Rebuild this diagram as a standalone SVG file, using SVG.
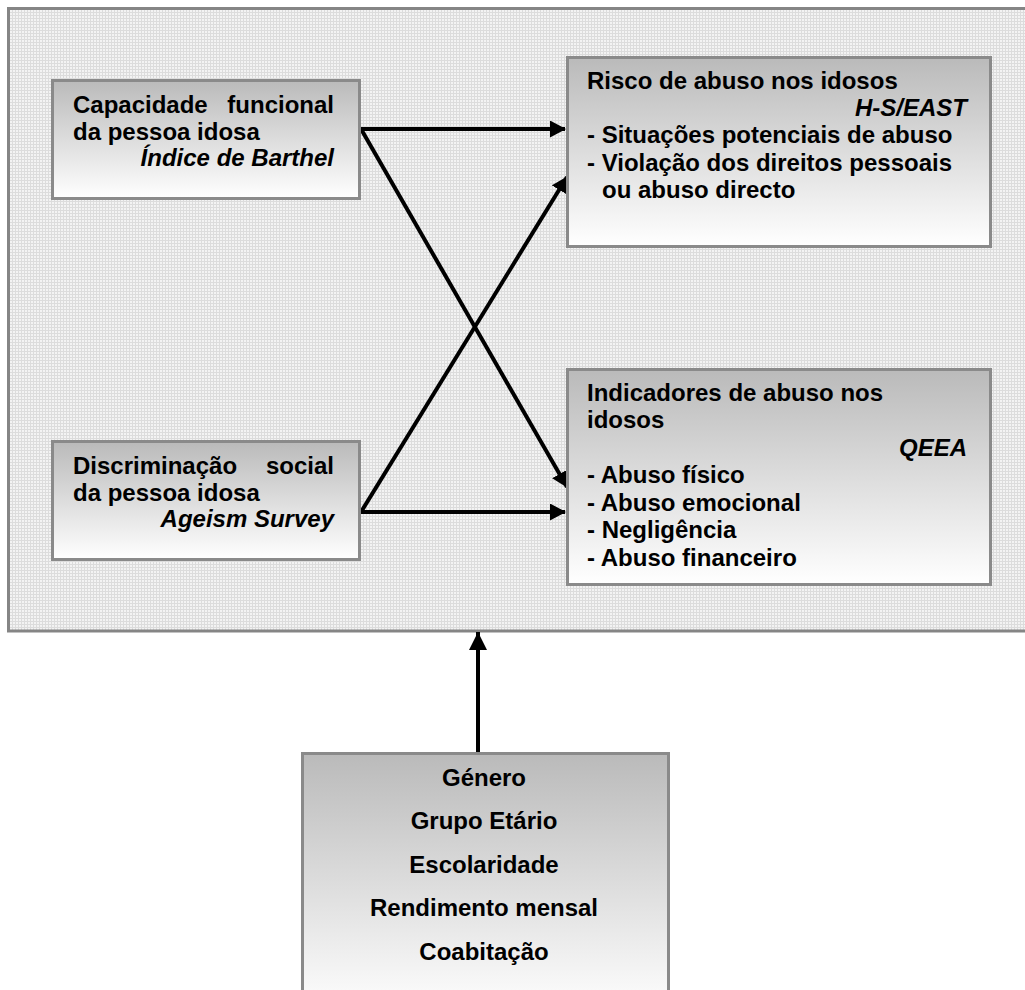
<svg xmlns="http://www.w3.org/2000/svg" width="1025" height="990" viewBox="0 0 1025 990">
<style>
.t{font-family:"Liberation Sans",Arial,sans-serif;font-weight:bold;font-size:24px;fill:#000}
.i{font-style:italic}
.box{fill:url(#g);stroke:#8a8a8a;stroke-width:3}
.c{fill:none;stroke:#000;stroke-width:4}
</style>
<defs>
<linearGradient id="g" x1="0" y1="0" x2="0" y2="1">
<stop offset="0" stop-color="#bababa"/>
<stop offset="1" stop-color="#ffffff"/>
</linearGradient>
<pattern id="p" width="3" height="3" patternUnits="userSpaceOnUse">
<rect width="3" height="3" fill="#f3f3f3"/>
<rect width="3" height="1" fill="#dcdcdc"/>
<rect width="1" height="3" fill="#dcdcdc"/>
</pattern>
<marker id="a" markerUnits="userSpaceOnUse" markerWidth="16" markerHeight="17" refX="15" refY="8.5" orient="auto">
<path d="M0,0 L16,8.5 L0,17 z" fill="#000"/>
</marker>
<marker id="a2" markerUnits="userSpaceOnUse" markerWidth="18" markerHeight="18" refX="18" refY="9" orient="auto">
<path d="M0,0 L18,9 L0,18 z" fill="#000"/>
</marker>
</defs>
<rect x="0" y="0" width="1025" height="990" fill="#fff"/>
<rect id="panel" x="8.5" y="8.5" width="1030" height="622.5" fill="url(#p)" stroke="#858585" stroke-width="3"/>
<g id="connectors">
<line class="c" x1="361" y1="129" x2="565" y2="129" marker-end="url(#a)"/>
<line class="c" x1="361" y1="129" x2="567" y2="487" marker-end="url(#a)"/>
<line class="c" x1="361" y1="512" x2="567" y2="177" marker-end="url(#a)"/>
<line class="c" x1="361" y1="512" x2="565" y2="512" marker-end="url(#a)"/>
<line class="c" x1="478" y1="752" x2="478" y2="632" stroke-width="5" marker-end="url(#a2)"/>
</g>
<g id="n1">
<rect class="box" x="52.5" y="80.5" width="307" height="118"/>
<text class="t" x="73" y="113">Capacidade</text>
<text class="t" x="334" y="113" text-anchor="end">funcional</text>
<text class="t" x="73" y="140">da pessoa idosa</text>
<text class="t i" x="334" y="166" text-anchor="end">Índice de Barthel</text>
</g>
<g id="n2">
<rect class="box" x="567.5" y="57.5" width="423" height="189"/>
<text class="t" x="587" y="89">Risco de abuso nos idosos</text>
<text class="t i" x="967" y="116" text-anchor="end">H-S/EAST</text>
<text class="t" x="587" y="143">- Situações potenciais de abuso</text>
<text class="t" x="587" y="171">- Violação dos direitos pessoais</text>
<text class="t" x="602" y="198">ou abuso directo</text>
</g>
<g id="n3">
<rect class="box" x="52.5" y="441.5" width="307" height="118"/>
<text class="t" x="73" y="474">Discriminação</text>
<text class="t" x="334" y="474" text-anchor="end">social</text>
<text class="t" x="73" y="501">da pessoa idosa</text>
<text class="t i" x="334" y="527" text-anchor="end">Ageism Survey</text>
</g>
<g id="n4">
<rect class="box" x="567.5" y="369.5" width="423" height="215"/>
<text class="t" x="587" y="401">Indicadores de abuso nos</text>
<text class="t" x="587" y="428">idosos</text>
<text class="t i" x="967" y="456" text-anchor="end">QEEA</text>
<text class="t" x="587" y="483">- Abuso físico</text>
<text class="t" x="587" y="511">- Abuso emocional</text>
<text class="t" x="587" y="538">- Negligência</text>
<text class="t" x="587" y="566">- Abuso financeiro</text>
</g>
<g id="n5">
<rect class="box" x="302.5" y="753.5" width="366" height="260"/>
<text class="t" x="484" y="786" text-anchor="middle">Género</text>
<text class="t" x="484" y="829" text-anchor="middle">Grupo Etário</text>
<text class="t" x="484" y="873" text-anchor="middle">Escolaridade</text>
<text class="t" x="484" y="916" text-anchor="middle">Rendimento mensal</text>
<text class="t" x="484" y="960" text-anchor="middle">Coabitação</text>
</g>
</svg>
